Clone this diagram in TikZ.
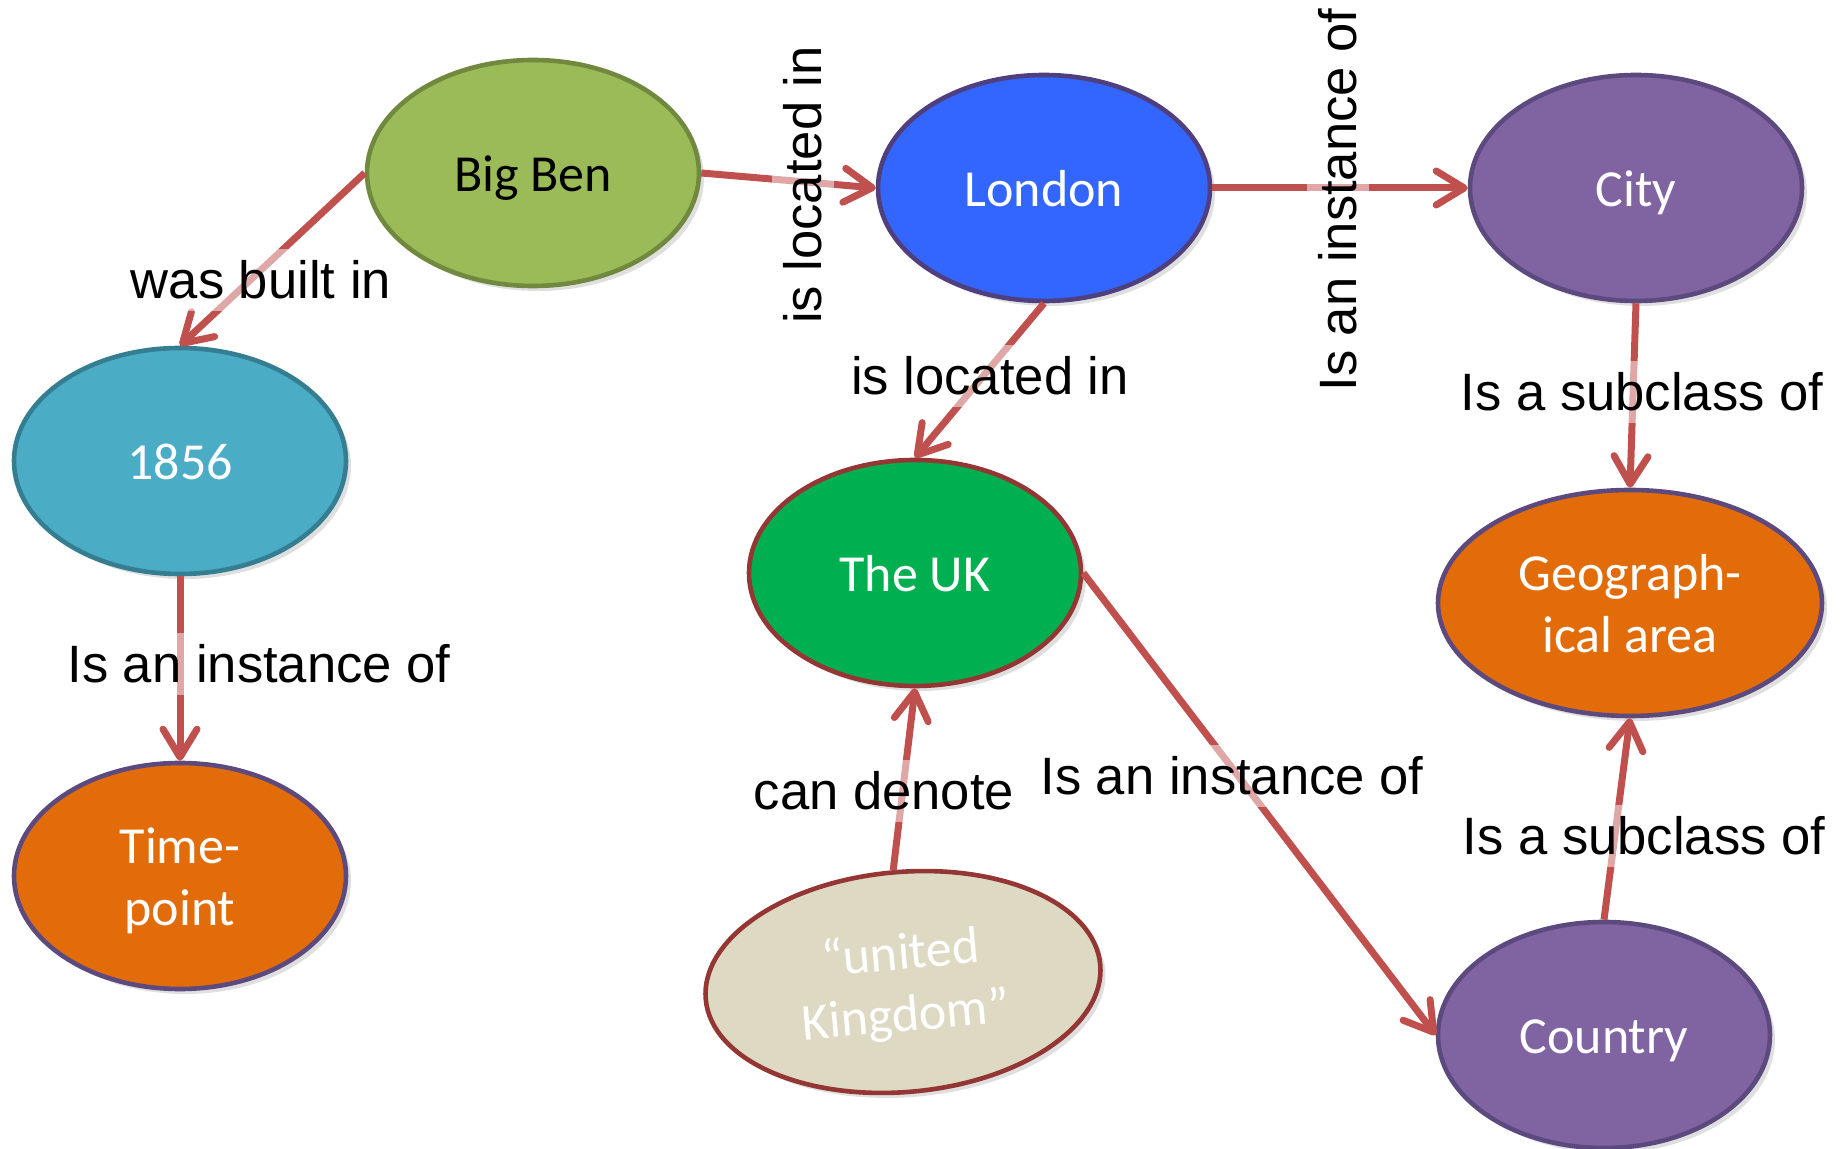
\documentclass[tikz,border=0pt]{standalone}
\usepackage{fontspec}
\setmainfont{Liberation Sans}
\newfontfamily\nodefont{Carlito}
\usetikzlibrary{shapes.geometric,arrows.meta,shadows}
\definecolor{arrowred}{HTML}{C0504D}
\definecolor{bbfill}{HTML}{9BBB59}\definecolor{bbline}{HTML}{71893F}
\definecolor{lonfill}{HTML}{3366FF}\definecolor{lonline}{HTML}{4F3F7F}
\definecolor{purpfill}{HTML}{8064A2}\definecolor{purpline}{HTML}{5C4A7F}
\definecolor{tealfill}{HTML}{4BACC6}\definecolor{tealline}{HTML}{357D91}
\definecolor{orfill}{HTML}{E36C0A}
\definecolor{grfill}{HTML}{00B050}\definecolor{darkred}{HTML}{943634}
\definecolor{beige}{HTML}{DDD9C3}
\newcommand\nodetext[1]{\raisebox{0pt}[\dimexpr\height+6pt\relax][\depth]{\begin{tabular}{@{}c@{}}#1\end{tabular}}}
\begin{document}
\begin{tikzpicture}[x=0.5pt,y=-0.5pt,
  ent/.style={ellipse, draw, line width=2.3pt, minimum width=166pt, minimum height=113pt,
    inner sep=0pt, text=white,
    font=\nodefont\fontsize{26}{31}\selectfont,
    drop shadow={opacity=0.25, shadow xshift=2.5pt, shadow yshift=-2.5pt}},
  rel/.style={draw=arrowred, line width=3.5pt, -{Straight Barb[length=14pt,width=17pt,round]}},
  lbl/.style={font=\fontsize{26.3}{31}\selectfont, fill=white, fill opacity=0.5, text opacity=1, inner sep=6pt}]
\useasboundingbox (0,0) rectangle (1844,1149);
% nodes
\node[ent, fill=bbfill, draw=bbline, text=black] (bigben) at (533,173) {\nodetext{Big Ben}};
\node[ent, fill=lonfill, draw=lonline] (london) at (1044,188) {\nodetext{London}};
\node[ent, fill=purpfill, draw=purpline] (city) at (1636,188) {\nodetext{City}};
\node[ent, fill=tealfill, draw=tealline] (y1856) at (180,461) {\nodetext{1856}};
\node[ent, fill=orfill, draw=purpline] (timepoint) at (180,876) {\nodetext{Time-\\point}};
\node[ent, fill=grfill, draw=darkred] (uk) at (915,573) {\nodetext{The UK}};
\node[ent, fill=beige, draw=darkred, minimum width=198pt, minimum height=110pt, rotate=5] (ukname) at (903,982) {\nodetext{“united\\Kingdom”}};
\node[ent, fill=orfill, draw=purpline, minimum width=192pt] (geo) at (1630,603) {\nodetext{Geograph-\\ical area}};
\node[ent, fill=purpfill, draw=purpline] (country) at (1604,1035) {\nodetext{Country}};
% connectors
\draw[rel] (bigben.west) -- (y1856.north);
\draw[rel] (bigben.east) -- (london.west);
\draw[rel] (london.east) -- (city.west);
\draw[rel] (london.south) -- (uk.north);
\draw[rel] (city.south) -- (geo.north);
\draw[rel] (y1856.south) -- (timepoint.north);
\draw[rel] (ukname.north) -- (uk.south);
\draw[rel] (uk.east) -- (country.west);
\draw[rel] (country.north) -- (geo.south);
% labels
\node[lbl] (l1) at (261,280) {was built in};
\node[lbl, rotate=90] (l2) at (803,185) {is located in};
\node[lbl, rotate=90] (l3) at (1338,200) {Is an instance of};
\node[lbl] (l4) at (990,376) {is located in};
\node[lbl] (l5) at (1642,392) {Is a subclass of};
\node[lbl] (l6) at (259,664) {Is an instance of};
\node[lbl] (l7) at (884,791) {can denote};
\node[lbl] (l8) at (1232,776) {Is an instance of};
\node[lbl] (l9) at (1644,836) {Is a subclass of};
\end{tikzpicture}
\end{document}
